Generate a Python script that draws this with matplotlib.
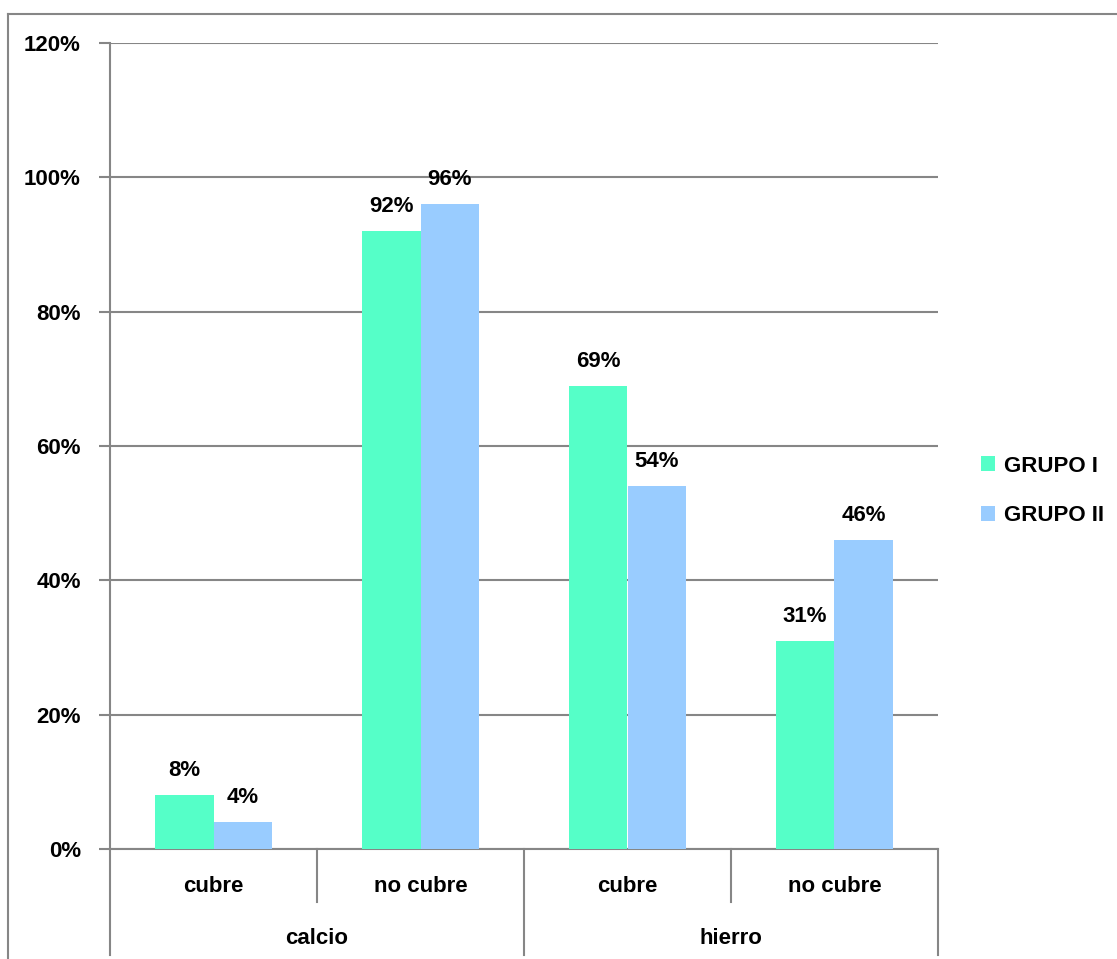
import numpy as np
import matplotlib.pyplot as plt
from matplotlib.lines import Line2D
from matplotlib.ticker import FuncFormatter

# data
groups = ["calcio", "hierro"]
subcats = ["cubre", "no cubre", "cubre", "no cubre"]
grupo_1 = [8, 92, 69, 31]
grupo_2 = [4, 96, 54, 46]
series_names = ["GRUPO I", "GRUPO II"]

green = "#55FFC8"
blue = "#99CCFF"
grey = "#868686"

plt.rcParams["font.family"] = ["Liberation Sans", "DejaVu Sans"]
plt.rcParams["font.weight"] = "bold"
fs = 16

W, H = 1117, 959
fig = plt.figure(figsize=(W / 100, H / 100), dpi=100)
ax = fig.add_axes([110 / W, 1 - 849 / H, 828 / W, 806 / H])

x = np.arange(len(subcats))
bw = 0.285
b1 = ax.bar(x - bw / 2, np.array(grupo_1) / 100, bw, color=green, label=series_names[0], zorder=3)
b2 = ax.bar(x + bw / 2, np.array(grupo_2) / 100, bw, color=blue, label=series_names[1], zorder=3)

for bars, vals in [(b1, grupo_1), (b2, grupo_2)]:
    for bar, v in zip(bars, vals):
        ax.annotate(f"{v}%", (bar.get_x() + bar.get_width() / 2, bar.get_height()),
                    xytext=(0, 10), textcoords="offset points", ha="center", va="bottom",
                    fontsize=fs, fontweight="bold")

ax.set_xlim(-0.5, 3.5)
ax.set_ylim(0, 1.2)
ax.set_yticks(np.arange(0, 1.21, 0.2))
ax.yaxis.set_major_formatter(FuncFormatter(lambda v, p: f"{v * 100:.0f}%"))
ax.tick_params(axis="y", length=8, width=1.5, color=grey, labelsize=fs, pad=13)
ax.tick_params(axis="x", length=0, labelbottom=False)
for lab in ax.get_yticklabels():
    lab.set_fontweight("bold")
ax.grid(axis="y", color=grey, linewidth=1.5, zorder=0)
ax.set_axisbelow(True)
for side in ["top", "right"]:
    ax.spines[side].set_visible(False)
for side in ["left", "bottom"]:
    ax.spines[side].set_color(grey)
    ax.spines[side].set_linewidth(1.5)

# two level category axis
tr = ax.get_xaxis_transform()
inner = -53 / 806
outer = -106 / 806
for xs in [0.5, 2.5]:
    ax.add_line(Line2D([xs, xs], [0, inner], transform=tr, color=grey, lw=1.5, clip_on=False))
for xs in [-0.5, 1.5, 3.5]:
    ax.add_line(Line2D([xs, xs], [0, outer], transform=tr, color=grey, lw=1.5, clip_on=False))
for xi, lab in zip(x, subcats):
    ax.text(xi, -38 / 806, lab, transform=tr, ha="center", va="center", fontsize=fs, fontweight="bold")
for gi, lab in enumerate(groups):
    ax.text(gi * 2 + 0.5, -89 / 806, lab, transform=tr, ha="center", va="center",
            fontsize=fs, fontweight="bold")

leg = fig.legend(loc="center left", bbox_to_anchor=(961 / W, 1 - 491 / H), frameon=False,
                 handlelength=0.65, handleheight=0.65, handletextpad=0.4, labelspacing=1.3,
                 prop={"size": fs, "weight": "bold"})

# outer chart frame
fig.add_artist(Line2D([8 / W, 8 / W], [0, 1 - 14 / H], transform=fig.transFigure, color=grey, lw=1.5))
fig.add_artist(Line2D([8 / W, 1], [1 - 14 / H, 1 - 14 / H], transform=fig.transFigure, color=grey, lw=1.5))

fig.savefig("out.png", dpi=100)
